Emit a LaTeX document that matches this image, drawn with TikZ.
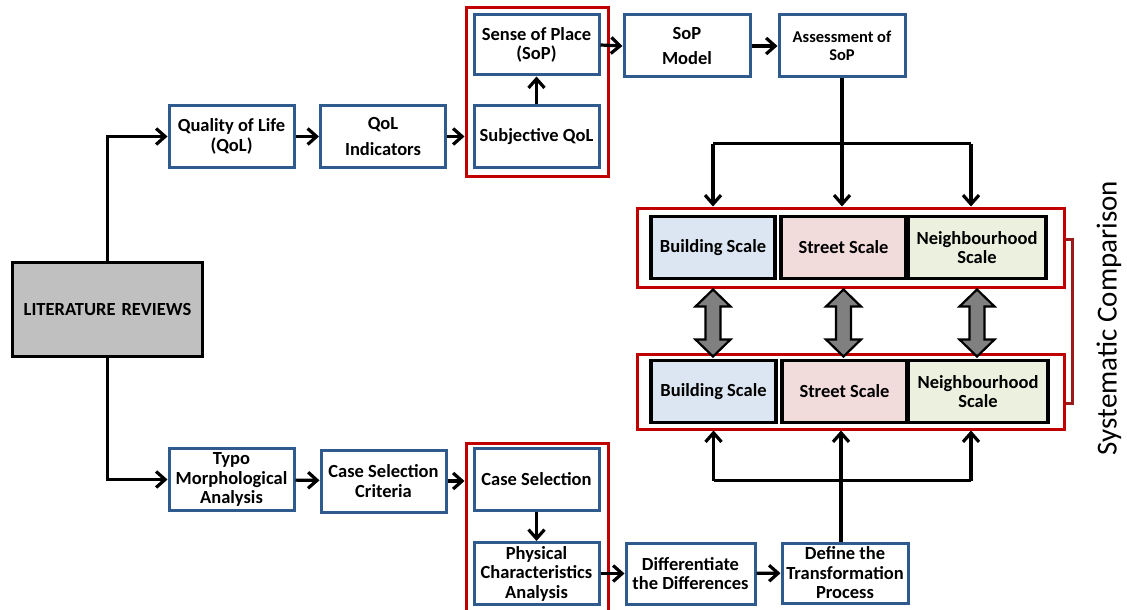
\documentclass[tikz,border=0pt]{standalone}
\usepackage{fontspec}
\setmainfont{Carlito}
\usetikzlibrary{arrows.meta,calc,fit}

\definecolor{boxblue}{HTML}{2E5A8E}
\definecolor{framered}{HTML}{C00000}
\definecolor{bracketred}{HTML}{9B1B1B}
\definecolor{litgray}{HTML}{C0C0C0}
\definecolor{bldfill}{HTML}{DCE6F2}
\definecolor{strfill}{HTML}{F2DCDB}
\definecolor{nbhfill}{HTML}{EBF1DE}
\definecolor{dblgray}{HTML}{808080}

\tikzset{
  txt/.style={font=\bfseries\fontsize{18.5}{19.5}\selectfont, align=center, inner sep=1pt},
  bluebox/.style={txt, draw=boxblue, line width=3pt, fill=white,
                  minimum width=#1, minimum height=62pt},
  bluebox/.default=125pt,
  scalebox/.style={txt, draw=black, line width=3.8pt, fill=#1,
                   minimum height=62pt},
  litbox/.style={txt, draw=black, line width=3.2pt, fill=litgray,
                 minimum width=190pt, minimum height=94pt},
  redframe/.style={draw=framered, line width=3pt, inner sep=0pt},
  arr/.style={draw=black, line width=3.2pt,
              -{Straight Barb[length=9pt,width=16pt,line width=3.2pt]}},
  link/.style={draw=black, line width=3.2pt},
  dblarrow/.style={draw=black, line width=2.2pt, fill=dblgray, line join=miter},
}

\begin{document}
\begin{tikzpicture}[x=1pt,y=-1pt]
\useasboundingbox (0,0) rectangle (1127,610);

% red frames around grouped steps
\node[redframe, fit={(466,8) (608,176)}] (frametop) {};
\node[redframe, fit={(466,443) (608,622)}] (framebot) {};
\node[redframe, fit={(637,208) (1064,287)}] (frameA) {};
\node[redframe, fit={(637,354) (1064,429)}] (frameB) {};

% starting point
\node[litbox] (lr) at (107.5,309.5) {LITERATURE\hspace{6pt}REVIEWS};

% upper branch: quality of life and sense of place
\node[bluebox] (qol)  at (231.5,136.5) {Quality of Life\\(QoL)};
\node[bluebox] (qoli) at (383,136.5) {QoL\\[6pt]Indicators};
\node[bluebox, minimum height=60pt] (sop) at (536.5,45) {Sense of Place\\(SoP)};
\node[bluebox] (subj) at (536.5,136.5) {Subjective QoL};
\node[bluebox=126pt] (sopm) at (687,46) {SoP\\[6pt]Model};
\node[bluebox=126pt, font=\bfseries\fontsize{16.5}{18.5}\selectfont] (ass) at (842,46) {Assessment of\\SoP};

% comparison scales
\node[scalebox=bldfill, minimum width=124pt] (b1) at (713,247.5) {Building Scale};
\node[scalebox=strfill, minimum width=125pt] (s1) at (843.5,247.5) {Street Scale};
\node[scalebox=nbhfill, minimum width=138pt] (n1) at (977,247.5) {Neighbourhood\\Scale};
\node[scalebox=bldfill, minimum width=125pt] (b2) at (713.5,391.5) {Building Scale};
\node[scalebox=strfill, minimum width=125pt] (s2) at (844.5,391.5) {Street Scale};
\node[scalebox=nbhfill, minimum width=140pt] (n2) at (978,391.5) {Neighbourhood\\Scale};

% lower branch: typo-morphology and case studies
\node[bluebox] (typo) at (231.5,479.5) {Typo\\Morphological\\Analysis};
\node[bluebox] (csc)  at (383.5,481) {Case Selection\\Criteria};
\node[bluebox] (cs)   at (536.5,479) {Case Selection};
\node[bluebox] (phys) at (536.5,573.5) {Physical\\Characteristics\\Analysis};
\node[bluebox=129pt, minimum height=61pt] (diff) at (690.5,573.5) {Differentiate\\the Differences};
\node[bluebox=126pt, minimum height=60pt] (def) at (845,573) {Define the\\Transformation\\Process};

\node[rotate=90, font=\fontsize{29}{32}\selectfont, inner sep=0pt] (sc) at (1109,318) {Systematic Comparison};

% connectors, upper branch
\draw[arr] (lr.north) |- (qol.west);
\draw[arr] (qol) -- (qoli);
\draw[arr] (qoli.east) -- (qoli.east -| frametop.west);
\draw[arr] (subj) -- (sop);
\draw[arr] (sop.east) -- (sopm.west);
\draw[arr] (sopm) -- (ass);
\coordinate (hubA) at ($(ass.south)+(0,65)$);
\draw[arr] (ass.south) -- (ass.south |- frameA.north);
\draw[link] (hubA -| b1) -- ([xshift=-6pt]hubA -| n1);
\draw[arr] (hubA -| b1) -- (b1 |- frameA.north);
\draw[arr] ([xshift=-6pt]hubA -| n1) -- ([xshift=-6pt]n1 |- frameA.north);

% connectors, lower branch
\draw[arr] (lr.south) |- (typo.west);
\draw[arr] (typo) -- (csc);
\draw[arr] (csc.east) -- (csc.east -| framebot.west);
\draw[arr] (cs) -- (phys);
\draw[arr] (phys.east) -- (diff.west);
\draw[arr] (diff) -- (def);
\coordinate (hubB) at ($(def.north)+(-4,-61)$);
\draw[arr] ([xshift=-4pt]def.north) -- ([xshift=-4pt]def.north |- frameB.south);
\draw[link] (hubB -| b2) -- ([xshift=-7pt]hubB -| n2);
\draw[arr] (hubB -| b2) -- (b2 |- frameB.south);
\draw[arr] ([xshift=-7pt]hubB -| n2) -- ([xshift=-7pt]n2 |- frameB.south);

% two-headed arrows linking the two rows of scales
\foreach \u/\l in {b1/b2, s1/s2, n1/n2}{
  \draw[dblarrow] ($(\u |- frameA.south)+(0,1)$)
    -- ++(17.5,17) -- ++(-10,0) -- ++(0,33) -- ++(10,0)
    -- ++(-17.5,17) -- ++(-17.5,-17) -- ++(10,0) -- ++(0,-33)
    -- ++(-10,0) -- cycle;
}

% bracket joining the two compared rows
\draw[draw=bracketred, line width=2.6pt]
  ($(frameA.north east)!0.4!(frameA.south east)$) -- ++(7,0)
  |- ($(frameB.north east)!0.65!(frameB.south east)$);
\end{tikzpicture}
\end{document}
